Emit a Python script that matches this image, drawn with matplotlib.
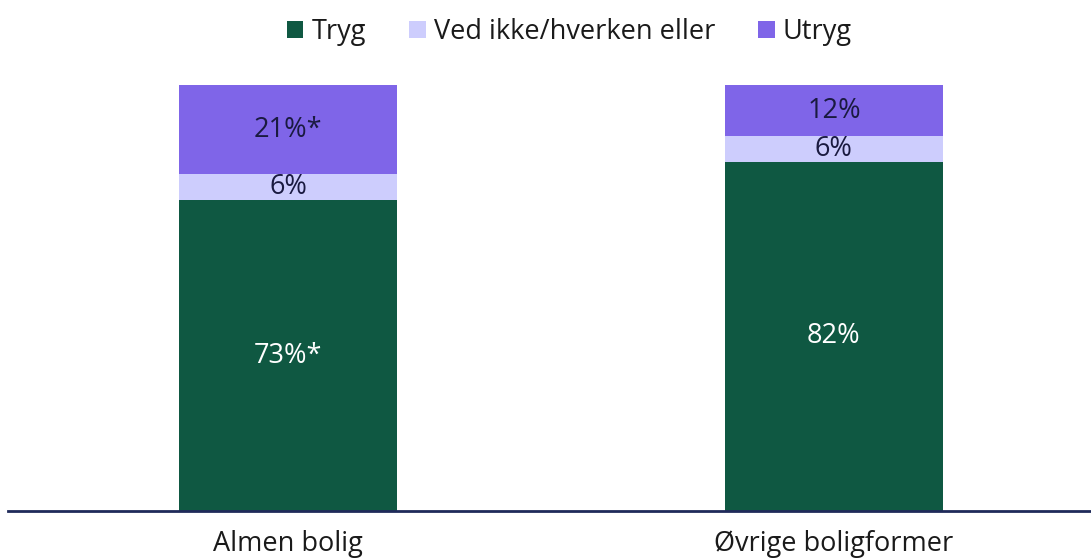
import matplotlib.pyplot as plt

categories = ["Almen bolig", "Øvrige boligformer"]
series = ["Tryg", "Ved ikke/hverken eller", "Utryg"]
tryg = [73, 82]
ved_ikke = [6, 6]
utryg = [21, 12]
labels = [["73%*", "82%"], ["6%", "6%"], ["21%*", "12%"]]

colors = ["#0f5842", "#cdcdfd", "#7f65e8"]
text_colors = ["white", "#1a1a40", "#1a1a40"]

plt.rcParams['font.family'] = ['Open Sans', 'DejaVu Sans']
fs = 19.5

fig = plt.figure(figsize=(10.91, 5.59), dpi=100)
ax = fig.add_axes([8 / 1091, 48 / 559, 1 - 8 / 1091, (511 - 85) / 559])

x = range(len(categories))
bottom = [0, 0]
for vals, name, col, tcol, labs in zip([tryg, ved_ikke, utryg], series, colors, text_colors, labels):
    bars = ax.bar(x, vals, width=0.4, bottom=bottom, color=col, label=name)
    for b, v, lab, bt in zip(bars, vals, labs, bottom):
        ax.text(b.get_x() + b.get_width() / 2, bt + v / 2, lab,
                ha='center', va='center', color=tcol, fontsize=fs)
    bottom = [a + b for a, b in zip(bottom, vals)]

ax.set_xlim(-0.513, 1.471)
ax.set_ylim(0, 100)
ax.set_yticks([])
ax.set_xticks(list(x))
ax.set_xticklabels(categories, fontsize=fs, color="#1a1a1a")
ax.tick_params(axis='x', length=0, pad=14)
for s in ['top', 'right', 'left']:
    ax.spines[s].set_visible(False)
ax.spines['bottom'].set_color("#1f2a5a")
ax.spines['bottom'].set_linewidth(2)

fig.legend(loc='center', bbox_to_anchor=(0.522, 1 - 32 / 559), ncol=3, frameon=False,
           fontsize=fs, handlelength=0.6, handleheight=0.6, handletextpad=0.3,
           columnspacing=1.6, labelcolor="#1a1a1a")

fig.savefig("out.png", dpi=100)
